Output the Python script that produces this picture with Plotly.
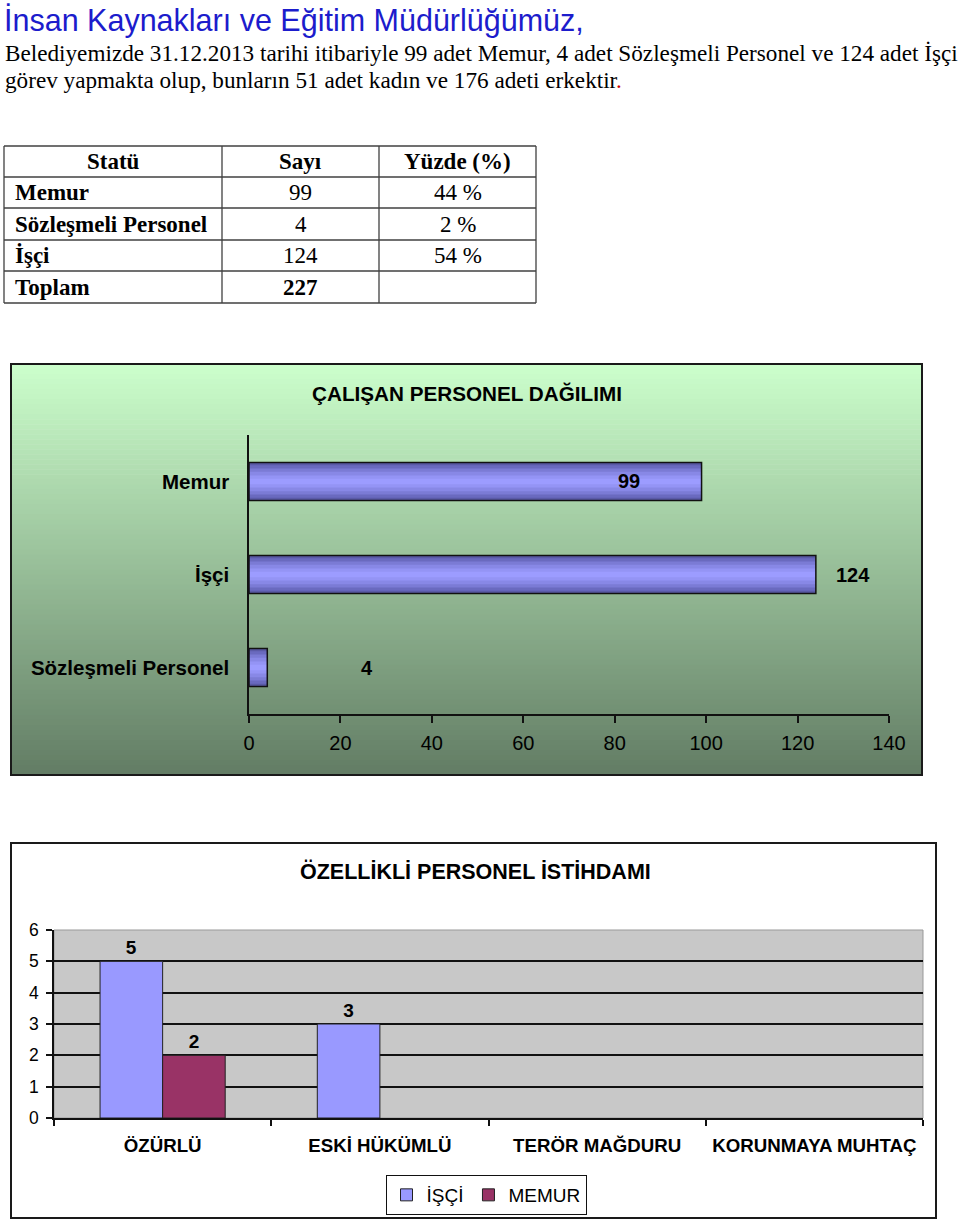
import plotly.graph_objects as go

# ---------------- data ----------------
table_header = ["Statü", "Sayı", "Yüzde (%)"]
table_statu = ["Memur", "Sözleşmeli Personel", "İşçi", "Toplam"]
table_sayi = ["99", "4", "124", "227"]
table_yuzde = ["44 %", "2 %", "54 %", ""]

dag_kategori = ["Memur", "İşçi", "Sözleşmeli Personel"]
dag_deger = [99, 124, 4]
dag_label_shift = [-73, 37, 100]

ozel_kategori = ["ÖZÜRLÜ", "ESKİ HÜKÜMLÜ", "TERÖR MAĞDURU", "KORUNMAYA MUHTAÇ"]
ozel_isci = [5, 3, 0, 0]
ozel_memur = [2, 0, 0, 0]

W, H = 960, 1219


def py(px):
    return 1 - px / H


def pxx(px):
    return px / W


SANS = "Liberation Sans, Arial, sans-serif"
SERIF = "Liberation Serif, Times New Roman, serif"

fig = go.Figure()
shapes = []
annotations = []

# ---------------- table (lines + text from lists) ----------------
col_edges = [4, 222, 379, 536]
row_edges = [146, 177, 208, 240, 271, 303]
for xe in col_edges:
    shapes.append(dict(type="line", xref="paper", yref="paper", x0=pxx(xe), x1=pxx(xe),
                       y0=py(row_edges[0]), y1=py(row_edges[-1]), line=dict(color="#404040", width=1.3)))
for ye in row_edges:
    shapes.append(dict(type="line", xref="paper", yref="paper", x0=pxx(col_edges[0]), x1=pxx(col_edges[-1]),
                       y0=py(ye), y1=py(ye), line=dict(color="#404040", width=1.3)))

rows = [table_header] + [[s, n_, p] for s, n_, p in zip(table_statu, table_sayi, table_yuzde)]
for r, row in enumerate(rows):
    yc = (row_edges[r] + row_edges[r + 1]) / 2
    for c, txt in enumerate(row):
        if not txt:
            continue
        bold = (r == 0) or (c == 0) or (r == len(rows) - 1)
        t = "<b>%s</b>" % txt if bold else txt
        if c == 0 and r > 0:
            x, xa = pxx(col_edges[0] + 9), "left"
        else:
            x, xa = pxx((col_edges[c] + col_edges[c + 1]) / 2), "center"
        annotations.append(dict(x=x, y=py(yc), xref="paper", yref="paper", xanchor=xa, yanchor="middle",
                                text=t, showarrow=False,
                                font=dict(family=SERIF, size=23, color="black")))

# ---------------- chart 1 (horizontal bars with shading) ----------------
layers = [(0.41, "#5a5aa6"), (0.35, "#6a6abf"), (0.28, "#7b7bd5"),
          (0.21, "#8888e6"), (0.13, "#9494f5"), (0.06, "#9c9cff")]
for w, c in layers:
    fig.add_trace(go.Bar(y=dag_kategori, x=dag_deger, orientation="h",
                         width=w, offset=-w / 2,
                         marker=dict(color=c, line=dict(width=0)),
                         xaxis="x", yaxis="y", showlegend=False, hoverinfo="skip"))
fig.add_trace(go.Bar(y=dag_kategori, x=dag_deger, orientation="h",
                     width=0.41, offset=-0.205,
                     marker=dict(color="rgba(0,0,0,0)", line=dict(width=1.5, color="#111")),
                     xaxis="x", yaxis="y", showlegend=False, hoverinfo="skip"))

for cat, val, sh in zip(dag_kategori, dag_deger, dag_label_shift):
    annotations.append(dict(x=val, y=cat, xref="x", yref="y", xshift=sh,
                            text=str(val), showarrow=False,
                            font=dict(family=SANS, size=20, color="black", weight="bold")))

# ---------------- chart 2 (grouped columns) ----------------
fig.add_trace(go.Bar(x=ozel_kategori, y=ozel_isci, name="İŞÇİ",
                     marker=dict(color="#9999ff",
                                 line=dict(color="#222", width=[1 if v else 0 for v in ozel_isci])),
                     text=[str(v) if v else "" for v in ozel_isci], textposition="outside",
                     textfont=dict(family=SANS, size=19, color="black", weight="bold"),
                     cliponaxis=False, xaxis="x2", yaxis="y2"))
fig.add_trace(go.Bar(x=ozel_kategori, y=ozel_memur, name="MEMUR",
                     marker=dict(color="#993366",
                                 line=dict(color="#222", width=[1 if v else 0 for v in ozel_memur])),
                     text=[str(v) if v else "" for v in ozel_memur], textposition="outside",
                     textfont=dict(family=SANS, size=19, color="black", weight="bold"),
                     cliponaxis=False, xaxis="x2", yaxis="y2"))
# invisible carrier so the grid-only overlay axis is rendered
fig.add_trace(go.Scatter(x=[ozel_kategori[0]], y=[None], mode="markers", xaxis="x2", yaxis="y3",
                         showlegend=False, hoverinfo="skip"))

# ---------------- background shapes ----------------
top, bot = 364, 775
n = 82
c0 = (204, 255, 204)
c1 = (98, 124, 100)
step = (bot - top) / n
for i in range(n):
    t = (i + 0.5) / n
    col = tuple(int(round(c0[k] + (c1[k] - c0[k]) * t)) for k in range(3))
    shapes.append(dict(type="rect", xref="paper", yref="paper", layer="below",
                       x0=pxx(11), x1=pxx(922), y0=py(top + i * step), y1=py(top + (i + 1) * step + 0.6),
                       fillcolor="rgb(%d,%d,%d)" % col, line=dict(width=0)))
shapes.append(dict(type="rect", xref="paper", yref="paper", layer="above",
                   x0=pxx(11), x1=pxx(922), y0=py(775), y1=py(364),
                   fillcolor="rgba(0,0,0,0)", line=dict(color="#1a1a1a", width=2)))
shapes.append(dict(type="rect", xref="paper", yref="paper", layer="above",
                   x0=pxx(11), x1=pxx(936), y0=py(1218), y1=py(843),
                   fillcolor="rgba(0,0,0,0)", line=dict(color="#1a1a1a", width=2)))
shapes.append(dict(type="rect", xref="paper", yref="paper", layer="below",
                   x0=pxx(54), x1=pxx(923), y0=py(1118), y1=py(930),
                   fillcolor="#c8c8c8", line=dict(color="#999999", width=1)))

# ---------------- text ----------------
annotations += [
    dict(x=pxx(2), y=py(20), xref="paper", yref="paper", xanchor="left", yanchor="middle",
         text="İnsan Kaynakları ve Eğitim Müdürlüğümüz,", showarrow=False,
         font=dict(family=SANS, size=30.5, color="#1c1ccc")),
    dict(x=pxx(3), y=py(53), xref="paper", yref="paper", xanchor="left", yanchor="middle",
         text="Belediyemizde 31.12.2013 tarihi itibariyle 99 adet Memur, 4 adet Sözleşmeli Personel ve 124 adet İşçi",
         showarrow=False, font=dict(family=SERIF, size=23.2, color="black")),
    dict(x=pxx(3), y=py(80), xref="paper", yref="paper", xanchor="left", yanchor="middle",
         text="görev yapmakta olup, bunların 51 adet kadın ve 176 adeti erkektir<span style='color:#cc0000'>.</span>",
         showarrow=False, font=dict(family=SERIF, size=23.2, color="black")),
    dict(x=pxx(467), y=py(393), xref="paper", yref="paper", xanchor="center", yanchor="middle",
         text="ÇALIŞAN PERSONEL DAĞILIMI", showarrow=False,
         font=dict(family=SANS, size=20.7, color="black", weight="bold")),
    dict(x=pxx(475), y=py(871), xref="paper", yref="paper", xanchor="center", yanchor="middle",
         text="ÖZELLİKLİ PERSONEL İSTİHDAMI", showarrow=False,
         font=dict(family=SANS, size=21.5, color="black", weight="bold")),
]

fig.update_layout(
    width=W, height=H, margin=dict(l=0, r=0, t=0, b=0, autoexpand=False),
    paper_bgcolor="white", plot_bgcolor="rgba(0,0,0,0)",
    barmode="group", bargap=0.424, bargroupgap=0,
    shapes=shapes, annotations=annotations,
    xaxis=dict(domain=[pxx(249), pxx(889)], range=[0, 140], dtick=20, tick0=0, automargin=False,
               showline=True, linecolor="#111", linewidth=1.5,
               ticks="outside", ticklen=7, tickcolor="#111", tickwidth=1.5,
               showgrid=False, zeroline=False, ticklabelstandoff=3,
               tickfont=dict(family=SANS, size=20, color="black"), anchor="y"),
    yaxis=dict(domain=[py(714), py(435)], categoryorder="array", categoryarray=dag_kategori,
               autorange="reversed", showline=True, linecolor="#111", linewidth=1.5, automargin=False,
               ticks="", showgrid=False, zeroline=False, ticklabelstandoff=14,
               tickfont=dict(family=SANS, size=20.5, color="black", weight="bold"), anchor="x"),
    xaxis2=dict(domain=[pxx(54), pxx(923)], anchor="y2", automargin=False, tickangle=0,
                showline=True, linecolor="#111", linewidth=1.5,
                ticks="outside", ticklen=6, tickcolor="#111", tickwidth=1.5, tickson="boundaries",
                showgrid=False, zeroline=False, ticklabelstandoff=10,
                tickfont=dict(family=SANS, size=18.7, color="black", weight="bold")),
    yaxis2=dict(domain=[py(1118), py(930)], anchor="x2", range=[0, 6], dtick=1, tick0=0, automargin=False,
                showline=True, linecolor="#111", linewidth=1.5,
                ticks="outside", ticklen=6, tickcolor="#111", tickwidth=1.5,
                showgrid=False, zeroline=False, ticklabelstandoff=4,
                tickfont=dict(family=SANS, size=17.5, color="black")),
    yaxis3=dict(overlaying="y2", anchor="x2", range=[0, 6], tickvals=[1, 2, 3, 4, 5], automargin=False,
                showticklabels=False, ticks="", showline=False, zeroline=False,
                showgrid=True, gridcolor="#111", gridwidth=1.5),
    legend=dict(orientation="h", x=pxx(486), y=py(1195), xanchor="center", yanchor="middle",
                bordercolor="#111", borderwidth=1, bgcolor="white",
                font=dict(family=SANS, size=19, color="black"), itemwidth=30),
)

fig.write_html("out.html",
               post_script="document.body.style.margin='0';document.body.style.overflow='hidden';")
